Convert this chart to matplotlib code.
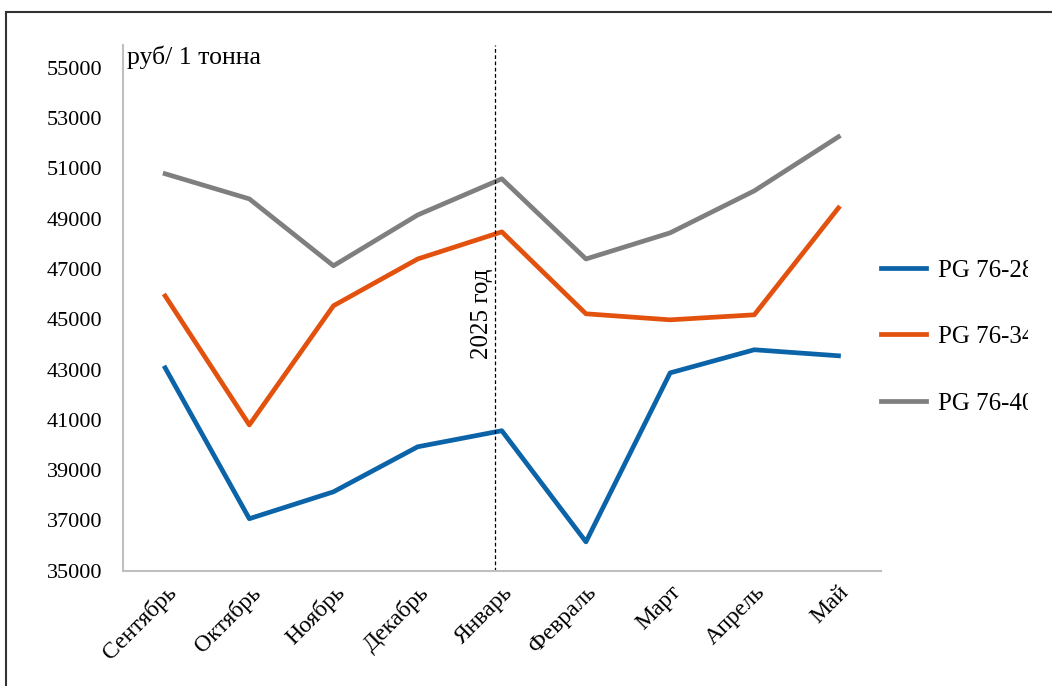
import matplotlib.pyplot as plt
from matplotlib.transforms import Bbox, TransformedBbox

plt.rcParams['font.family'] = ['Liberation Serif', 'DejaVu Serif']

months = ['Сентябрь', 'Октябрь', 'Ноябрь', 'Декабрь', 'Январь',
          'Февраль', 'Март', 'Апрель', 'Май']
pg_28 = [43070, 37070, 38140, 39930, 40570, 36150, 42870, 43790, 43550]
pg_34 = [45930, 40800, 45540, 47400, 48480, 45220, 44980, 45180, 49430]
pg_40 = [50790, 49790, 47130, 49150, 50590, 47400, 48440, 50110, 52260]
series_names = ['PG 76-28', 'PG 76-34', 'PG 76-40']
yticks = list(range(35000, 55001, 2000))

fig = plt.figure(figsize=(10.52, 6.86), dpi=100)
ax = fig.add_axes([0.117, 0.168, 0.72, 0.766])

x = range(len(months))
ax.plot(x, pg_28, color='#0B63A8', lw=3.4, label=series_names[0])
ax.plot(x, pg_34, color='#E2520E', lw=3.4, label=series_names[1])
ax.plot(x, pg_40, color='#7F7F7F', lw=3.4, label=series_names[2])

# year boundary
ax.axvline(3.92, color='black', lw=0.9, ls=(0, (3, 2)))
ax.text(3.76, 45220, '2025 год', rotation=90, ha='center', va='center', fontsize=18)

ax.set_xlim(-0.5, 8.5)
ax.set_ylim(35000, 55900)
ax.set_yticks(yticks)
ax.set_xticks(list(x))
ax.set_xticklabels(months, rotation=45, ha='right', rotation_mode='anchor', fontsize=17)
ax.tick_params(axis='y', labelsize=16, length=0, pad=15)
ax.tick_params(axis='x', length=0, pad=8)
for s in ['top', 'right']:
    ax.spines[s].set_visible(False)
for s in ['left', 'bottom']:
    ax.spines[s].set_color('#BFBFBF')
    ax.spines[s].set_linewidth(1.5)

ax.text(0.005, 1.0, 'руб/ 1 тонна', transform=ax.transAxes, ha='left', va='top', fontsize=18.5)

leg = ax.legend(loc='center left', bbox_to_anchor=(1.0, 0.445), frameon=False,
                fontsize=18, handlelength=1.8, handletextpad=0.48, labelspacing=1.76,
                borderaxespad=0, borderpad=0)
clip = TransformedBbox(Bbox([[0, 0], [1028 / 1052, 1]]), fig.transFigure)
for t in leg.get_texts():
    t.set_clip_box(clip)
    t.set_clip_on(True)

# outer frame
fig.add_artist(plt.Rectangle((6 / 1052, -0.01), 1.1, (686 - 12) / 686 + 0.01,
                             transform=fig.transFigure, fill=False, ec='#333333', lw=1.5))

fig.savefig('out.png', dpi=100)
